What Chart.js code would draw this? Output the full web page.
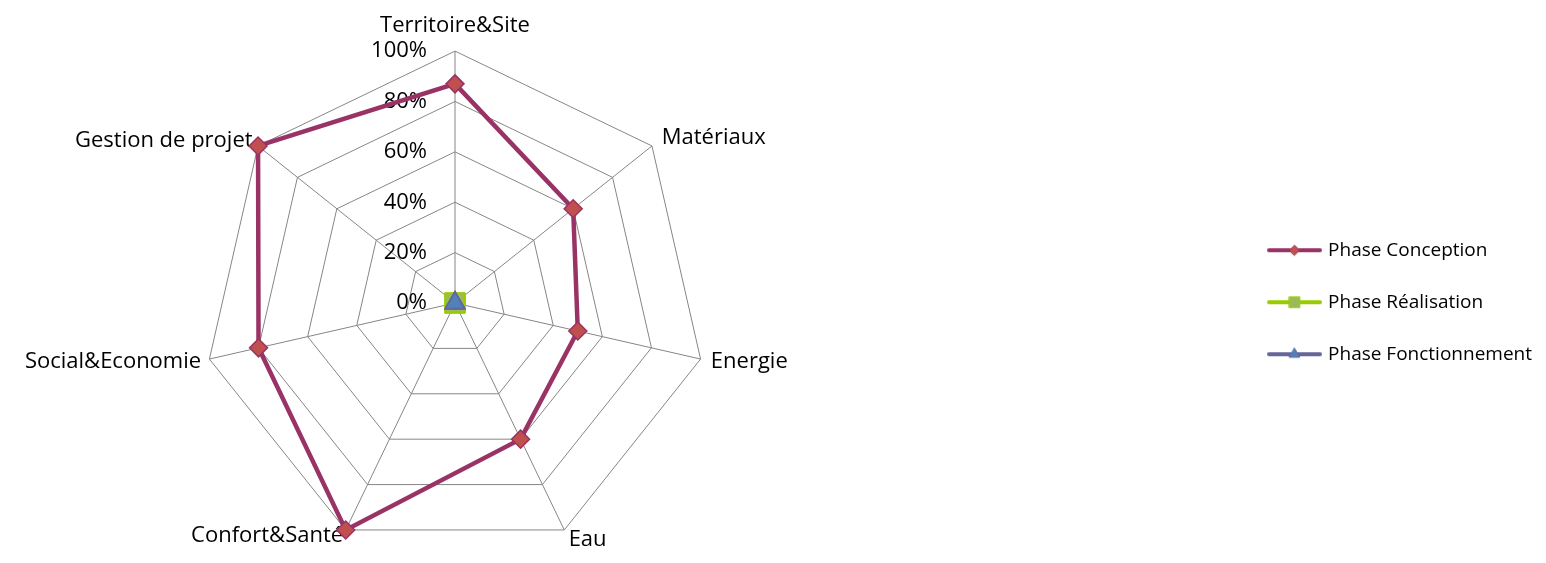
<!DOCTYPE html>
<html>
<head>
<meta charset="utf-8">
<script src="https://cdn.jsdelivr.net/npm/chart.js"></script>
<style>
  html, body { margin: 0; padding: 0; background: #fff; overflow: hidden; width: 1546px; height: 563px; }
  /* the canvas is a bit larger than the window so the radar sits left and the legend right */
  #wrap { position: absolute; left: -326px; top: 0; width: 1872px; height: 568px; }
</style>
</head>
<body>
<div id="wrap"><canvas id="radarChart"></canvas></div>
<script>
// Data
const categories = [
  "Territoire&Site",
  "Matériaux",
  "Energie",
  "Eau",
  "Confort&Santé",
  "Social&Economie",
  "Gestion de projet",
];
const conceptionData = [87, 60, 50, 60, 100, 80, 100];
const realisationData = [0, 0, 0, 0, 0, 0, 0];
const fonctionnementData = [0, 0, 0, 0, 0, 0, 0];
const seriesNames = ["Phase Conception", "Phase Réalisation", "Phase Fonctionnement"];

Chart.defaults.font.family = "'Open Sans', sans-serif";
Chart.defaults.color = "#000";

// per-label distance from the outer ring (Excel puts them close to the vertices)
const labelPad = [25, 12.5, 10.5, 10, 6, 8.5, 7];

// legend swatch: line with the marker in the middle
function makeIcon(lineColor, style, radius, fill, stroke) {
  const c = document.createElement("canvas");
  c.width = 55;
  c.height = 20;
  const g = c.getContext("2d");
  g.strokeStyle = lineColor;
  g.lineWidth = 4;
  g.lineCap = "round";
  g.beginPath();
  g.moveTo(2, 10);
  g.lineTo(53, 10);
  g.stroke();
  g.fillStyle = fill;
  g.strokeStyle = stroke;
  g.lineWidth = 1;
  Chart.helpers.drawPoint(g, { pointStyle: style, radius: radius, borderWidth: 1 }, 27.5, 10);
  return c;
}
const icons = [
  makeIcon("#993366", "rectRot", 5, "#C0504D", "#993366"),
  makeIcon("#99CC00", "rect", 7.5, "#9BBB59", "#99CC00"),
  makeIcon("#666699", "triangle", 6, "#4F81BD", "#666699"),
];

// tick labels drawn to the left of the vertical axis, like Excel
const tickLabelPlugin = {
  id: "tickLabels",
  beforeDatasetsDraw(chart) {
    const s = chart.scales.r;
    const ctx = chart.ctx;
    ctx.save();
    ctx.font = "22px 'Open Sans', sans-serif";
    ctx.fillStyle = "#000";
    ctx.textAlign = "right";
    ctx.textBaseline = "middle";
    s.ticks.forEach((t) => {
      const y = s.yCenter - s.getDistanceFromCenterForValue(t.value);
      ctx.fillText(t.value + "%", s.xCenter - 28, y);
    });
    ctx.restore();
  },
};

const ctx = document.getElementById("radarChart").getContext("2d");
const myChart = new Chart(ctx, {
  type: "radar",
  data: {
    labels: categories,
    datasets: [
      {
        label: seriesNames[0],
        data: conceptionData,
        borderColor: "#993366",
        borderWidth: 4.5,
        fill: false,
        pointStyle: "rectRot",
        pointRadius: 9,
        pointBackgroundColor: "#C0504D",
        pointBorderColor: "#993366",
        pointBorderWidth: 1.5,
        order: 0,
      },
      {
        label: seriesNames[1],
        data: realisationData,
        borderColor: "#99CC00",
        borderWidth: 4.5,
        fill: false,
        pointStyle: "rect",
        pointRadius: 13.5,
        pointBackgroundColor: "#9BBB59",
        pointBorderColor: "#99CC00",
        pointBorderWidth: 1.5,
        order: 2,
      },
      {
        label: seriesNames[2],
        data: fonctionnementData,
        borderColor: "#666699",
        borderWidth: 4.5,
        fill: false,
        pointStyle: "triangle",
        pointRadius: 11,
        pointBackgroundColor: "#4F81BD",
        pointBorderColor: "#666699",
        pointBorderWidth: 1.5,
        order: 1,
      },
    ],
  },
  options: {
    responsive: true,
    maintainAspectRatio: false,
    animation: false,
    layout: {
      padding: { left: 0, right: 4, top: 12, bottom: 0 },
    },
    scales: {
      r: {
        min: 0,
        max: 100,
        ticks: {
          stepSize: 20,
          display: false,
          callback: (v) => v + "%",
        },
        grid: { color: "#868686", lineWidth: 1 },
        angleLines: { color: "#868686", lineWidth: 1 },
        pointLabels: {
          color: "#000",
          font: { size: 22, lineHeight: 0.05 },
          padding: (c) => labelPad[c.index],
        },
      },
    },
    plugins: {
      legend: {
        display: true,
        position: "right",
        title: { display: true, text: " ", font: { size: 12 }, padding: 5 },
        labels: {
          usePointStyle: true,
          pointStyleWidth: 48,
          padding: 33,
          color: "#000",
          font: { size: 19 },
          sort: (a, b) => a.datasetIndex - b.datasetIndex,
          generateLabels: function (chart) {
            const items = Chart.defaults.plugins.legend.labels.generateLabels(chart);
            items.forEach((it) => {
              it.pointStyle = icons[it.datasetIndex];
            });
            return items;
          },
        },
      },
      tooltip: { enabled: false },
    },
  },
  plugins: [tickLabelPlugin],
});
</script>
</body>
</html>
